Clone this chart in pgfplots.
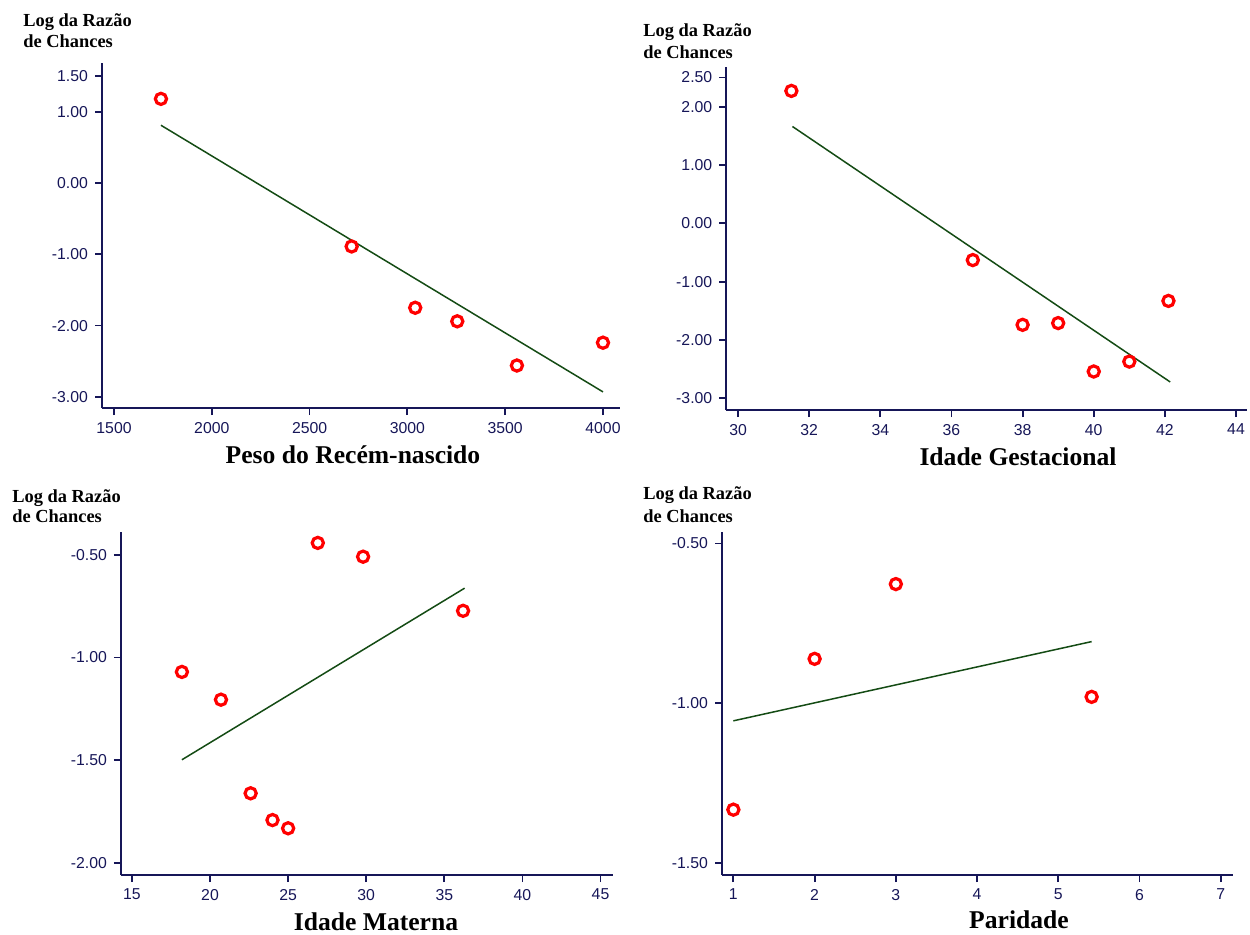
\documentclass[border=0pt]{standalone}
\usepackage{fontspec}
\setmainfont{Liberation Serif}
\newfontfamily\arialfont{Liberation Sans}
\usepackage{pgfplots}
\pgfplotsset{compat=1.18}
\definecolor{axblue}{RGB}{22,22,88}
\definecolor{ptred}{RGB}{255,0,0}
\definecolor{lngreen}{RGB}{20,75,20}
\pgfplotsset{
 panel/.style={
  scale only axis, anchor=south west,
  axis lines*=left, axis line style={axblue, line width=1pt, -},
  tick style={axblue, line width=0.9pt}, tick align=outside, major tick length=3.5pt,
  ticklabel style={font=\arialfont\fontsize{7.9}{9}\selectfont, text=axblue},
  /pgf/number format/assume math mode=true,
  yticklabel style={/pgf/number format/.cd, fixed, fixed zerofill, precision=2},
  xticklabel style={/pgf/number format/.cd, fixed, 1000 sep={}},
  clip=false,
 },
 pts/.style={only marks, mark=o, mark size=2.8pt, mark options={ptred, line width=1.6pt}},
 fitline/.style={no marks, lngreen, line width=0.75pt},
}
\begin{document}
\begin{tikzpicture}
\useasboundingbox (0,0) rectangle (625pt,467pt);
% Panel 1
\begin{axis}[panel, at={(51pt,263pt)}, width=259pt, height=172.5pt,
  xmin=1438.6, xmax=4087, ymin=-3.156, ymax=1.683,
  xtick={1500,2000,2500,3000,3500,4000}, ytick={-3,-2,-1,0,1,1.5}]
\addplot[pts] coordinates {(1740,1.18) (2715,-0.89) (3040,-1.75) (3255,-1.94) (3560,-2.56) (4000,-2.24)};
\addplot[fitline] coordinates {(1740,0.81) (4000,-2.93)};
\end{axis}
% Panel 2
\begin{axis}[panel, at={(363.15pt,262pt)}, width=260.2pt, height=171.5pt,
  xmin=29.67, xmax=44.3, ymin=-3.2, ymax=2.68,
  xtick={30,32,...,44}, ytick={-3,-2,-1,0,1,2,2.5}]
\addplot[pts] coordinates {(31.5,2.27) (36.6,-0.63) (38,-1.74) (39,-1.71) (40,-2.54) (41,-2.37) (42.1,-1.33)};
\addplot[fitline] coordinates {(31.53,1.66) (42.15,-2.72)};
\end{axis}
% Panel 3
\begin{axis}[panel, at={(60.5pt,29.5pt)}, width=246pt, height=171.5pt,
  xmin=14.3, xmax=45.8, ymin=-2.057, ymax=-0.39,
  xtick={15,20,...,45}, ytick={-2,-1.5,-1,-0.5}]
\addplot[pts] coordinates {(18.2,-1.07) (20.7,-1.205) (22.6,-1.66) (24,-1.79) (25,-1.83) (26.9,-0.443) (29.8,-0.51) (36.2,-0.773)};
\addplot[fitline] coordinates {(18.2,-1.497) (36.3,-0.663)};
\end{axis}
% Panel 4
\begin{axis}[panel, at={(361pt,29.5pt)}, width=255.5pt, height=171.5pt,
  xmin=0.86, xmax=7.15, ymin=-1.5375, ymax=-0.464,
  xtick={1,2,...,7}, ytick={-1.5,-1,-0.5}]
\addplot[pts] coordinates {(1,-1.333) (2,-0.861) (3,-0.627) (5.41,-0.98)};
\addplot[fitline] coordinates {(1,-1.055) (5.41,-0.807)};
\end{axis}
% labels
\begin{scope}[every node/.style={inner sep=0pt, font=\bfseries\fontsize{9.2}{11}\selectfont}]
\node[anchor=base west] at (11.5pt,453.5pt) {Log da Razão};
\node[anchor=base west] at (11.5pt,443pt) {de Chances};
\node[anchor=base west] at (321.5pt,448.5pt) {Log da Razão};
\node[anchor=base west] at (321.5pt,437.5pt) {de Chances};
\node[anchor=base west] at (6pt,215.5pt) {Log da Razão};
\node[anchor=base west] at (6pt,205.5pt) {de Chances};
\node[anchor=base west] at (321.5pt,217.5pt) {Log da Razão};
\node[anchor=base west] at (321.5pt,206pt) {de Chances};
\end{scope}
\begin{scope}[every node/.style={inner sep=0pt, font=\bfseries\fontsize{12.8}{15}\selectfont}]
\node[anchor=base] at (176.5pt,235.25pt) {Peso do Recém-nascido};
\node[anchor=base] at (509pt,234.25pt) {Idade Gestacional};
\node[anchor=base] at (188pt,1.75pt) {Idade Materna};
\node[anchor=base] at (509.5pt,2.75pt) {Paridade};
\end{scope}
\end{tikzpicture}
\end{document}
